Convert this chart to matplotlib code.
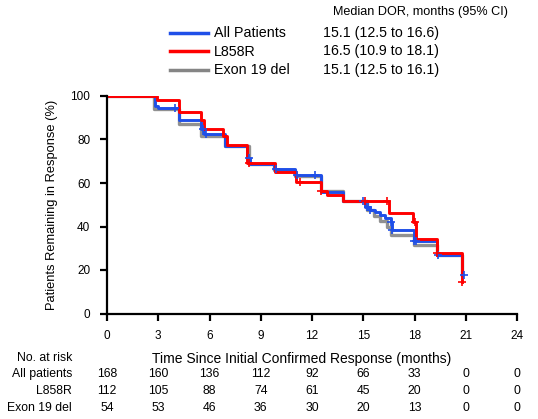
import matplotlib
matplotlib.use("Agg")
import matplotlib.pyplot as plt
import numpy as np

plt.rcParams['font.family'] = ['Liberation Sans', 'DejaVu Sans']

# Kaplan-Meier steps (time in months, % remaining in response)
all_t = [0, 2.8, 3.0, 4.24, 5.5, 5.7, 6.9, 8.2, 8.35, 9.8, 11.0, 12.5, 13.84,
         15.1, 15.4, 15.7, 16.0, 16.3, 16.6, 16.7, 17.95, 19.3, 20.8]
all_s = [100, 95.4, 94.6, 88.9, 84.7, 82.7, 77.0, 71.3, 68.9, 66.4, 63.7, 56.0, 51.7,
         49.0, 47.5, 46.5, 45.5, 44.0, 42.0, 38.2, 33.2, 26.8, 17.6]
all_cens_t = [4.0, 5.6, 5.8, 8.3, 9.9, 11.1, 12.2, 15.0, 15.3, 15.4, 16.6, 16.7, 17.95, 18.1, 19.4, 20.9]

l858_t = [0, 2.9, 4.24, 5.5, 5.7, 6.8, 7.0, 8.2, 9.84, 11.07, 12.5, 12.9, 13.84,
          16.5, 17.9, 18.1, 19.3, 20.8]
l858_s = [100, 98.2, 92.7, 88.9, 85.0, 81.7, 77.4, 69.2, 65.2, 60.3, 56.2, 54.4, 51.6,
          46.1, 42.0, 34.4, 27.8, 14.6]
l858_cens_t = [8.3, 11.3, 12.5, 15.1, 16.4, 18.0, 19.3, 20.8]

ex19_t = [0, 2.75, 4.24, 5.5, 6.9, 8.3, 9.8, 11.0, 12.5, 13.84,
          15.2, 15.6, 16.0, 16.4, 16.6, 17.95, 19.3, 20.8]
ex19_s = [100, 94.2, 87.0, 81.7, 77.0, 68.9, 66.0, 63.0, 56.5, 51.5,
          47.5, 45.0, 42.5, 39.7, 36.0, 31.4, 26.8, 17.6]

legend_names = ['All Patients', 'L858R', 'Exon 19 del']
legend_dor = ['15.1 (12.5 to 16.6)', '16.5 (10.9 to 18.1)', '15.1 (12.5 to 16.1)']

risk_times = [0, 3, 6, 9, 12, 15, 18, 21, 24]
risk_labels = ['All patients', 'L858R', 'Exon 19 del']
risk_all = [168, 160, 136, 112, 92, 66, 33, 0, 0]
risk_l858 = [112, 105, 88, 74, 61, 45, 20, 0, 0]
risk_ex19 = [54, 53, 46, 36, 30, 20, 13, 0, 0]

blue = '#1f4fe8'
red = '#ff0000'
gray = '#858585'


def km_value(ts, ss, t):
    idx = np.searchsorted(ts, t, side='right') - 1
    return ss[idx]


fig = plt.figure(figsize=(5.38, 4.19), dpi=100)
ax = fig.add_axes([107 / 538, 105.5 / 419, 410 / 538, 217.5 / 419])

ax.step(ex19_t, ex19_s, where='post', color=gray, lw=2.4, alpha=0.9)
ax.step(all_t, all_s, where='post', color=blue, lw=2.1)
ax.step(l858_t, l858_s, where='post', color=red, lw=2.1)

ax.plot(all_cens_t, [km_value(all_t, all_s, t) for t in all_cens_t], '+',
        color=blue, ms=6, mew=1.2)
ax.plot(l858_cens_t, [km_value(l858_t, l858_s, t) for t in l858_cens_t], '+',
        color=red, ms=6, mew=1.2)

ax.set_xlim(0, 24)
ax.set_ylim(0, 100)
ax.set_xticks(risk_times)
ax.set_yticks(range(0, 101, 20))
ax.spines['top'].set_visible(False)
ax.spines['right'].set_visible(False)
for sp in ['left', 'bottom']:
    ax.spines[sp].set_linewidth(1.6)
ax.tick_params(width=1.6, length=5, labelsize=8.5, pad=7)
ax.set_ylabel('Patients Remaining in Response (%)', fontsize=9.3, labelpad=9)
ax.set_xlabel('Time Since Initial Confirmed Response (months)', fontsize=10)
ax.xaxis.set_label_coords(0.475, -0.175)

# legend with median DOR column
fig.text(333 / 538, 1 - 12 / 419, 'Median DOR, months (95% CI)', fontsize=9.1,
         va='center', ha='left')
for i, (name, dor, col) in enumerate(zip(legend_names, legend_dor, [blue, red, gray])):
    y = 1 - (33 + i * 18.5) / 419
    fig.add_artist(plt.Line2D([170 / 538, 208 / 538], [y, y], color=col, lw=2.5))
    fig.text(214 / 538, y, name, fontsize=10.3, va='center', ha='left')
    fig.text(323 / 538, y, dor, fontsize=10.2, va='center', ha='left')

# number at risk table
fig.text(72 / 538, 1 - 358 / 419, 'No. at risk', fontsize=8.8, va='center', ha='right')
blend = matplotlib.transforms.blended_transform_factory(ax.transData, fig.transFigure)
for i, (lab, row) in enumerate(zip(risk_labels, [risk_all, risk_l858, risk_ex19])):
    y = 1 - (374 + i * 17) / 419
    fig.text(72 / 538, y, lab, fontsize=8.8, va='center', ha='right')
    for t, n in zip(risk_times, row):
        ax.text(t, y, str(n), fontsize=8.8, va='center', ha='center', transform=blend)

fig.savefig('out.png', dpi=100)
